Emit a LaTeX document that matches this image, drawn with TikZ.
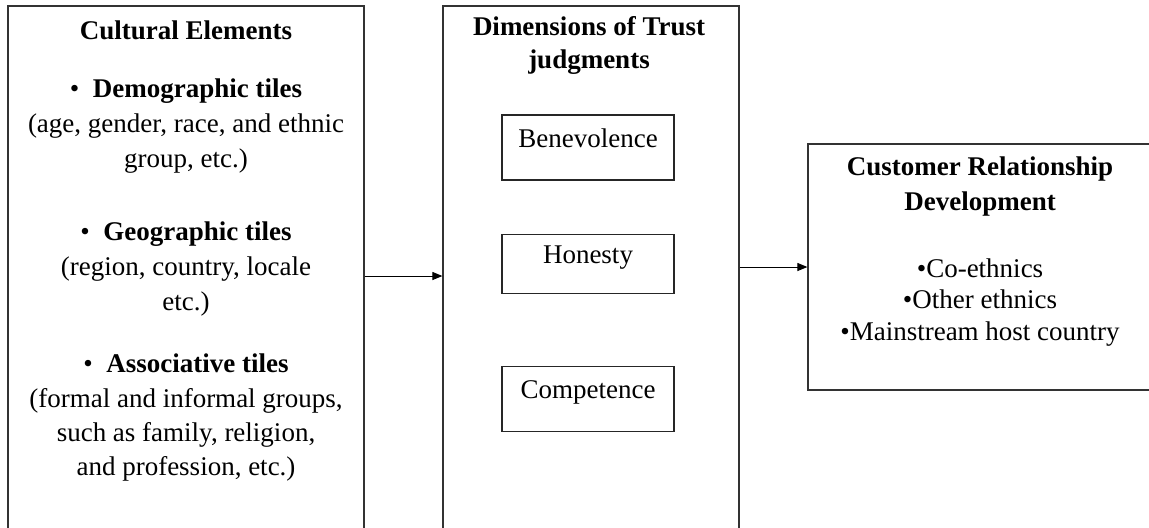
\documentclass[tikz,border=0pt]{standalone}
\usepackage{fontspec}
\setmainfont{Liberation Serif}
\usetikzlibrary{arrows.meta, positioning}
\newcommand{\bodyfont}{\fontsize{13.5}{17.5}\selectfont}
\tikzset{
	panel/.style={draw=black!80, line width=0.6pt, inner sep=0pt},
	dimbox/.style={draw=black!85, line width=0.6pt, minimum width=86pt,
		minimum height=32.5pt, inner sep=0pt, text height=9pt, text depth=9pt},
	heading/.style={align=center, inner sep=0pt, font=\bodyfont\bfseries},
	entry/.style={align=center, inner sep=0pt},
	flow/.style={-{Triangle[length=5pt, width=4pt]}, line width=0.5pt, black},
}

\begin{document}
\begin{tikzpicture}[x=0.5pt, y=-0.5pt, font=\bodyfont]
	\clip (0,0) rectangle (1149,527);
	% three panels, open at the bottom
	\node[panel, minimum width=178pt, minimum height=270pt] (cult) at (186,276) {};
	\node[panel, minimum width=148pt, minimum height=270pt] (trust) at (591,276) {};
	\node[panel, minimum width=172pt, minimum height=123pt] (crd) at (980,267) {};
	% cultural elements (base = last line)
	\node[heading, anchor=base] (cultT) at (186,39) {Cultural Elements};
	\node[entry, anchor=base] (demo) at (186,167)
		{•\enspace\textbf{Demographic tiles}\\(age, gender, race, and ethnic\\group, etc.)};
	\node[entry, anchor=base] (geo) at (186,310)
		{•\enspace\textbf{Geographic tiles}\\(region, country, locale\\etc.)};
	\node[entry, anchor=base] (assoc) at (186,475)
		{•\enspace\textbf{Associative tiles}\\(formal and informal groups,\\[-0.5pt]such as family, religion,\\[-0.5pt]and profession, etc.)};
	% trust judgments
	\node[heading, anchor=base] (trustT) at (589,68) {Dimensions of Trust\\[-1pt]judgments};
	\node[dimbox] (ben) at (588,147.5) {Benevolence};
	\node[dimbox, minimum height=29.5pt, below=26.5pt of ben] (hon) {Honesty};
	\node[dimbox, below=36pt of hon] (comp) {Competence};
	% relationship development
	\node[heading, anchor=base] (crdT) at (980,210) {Customer Relationship\\Development};
	\node[entry, anchor=base] (crdL) at (980,340)
		{•Co-ethnics\\[-1.75pt]•Other ethnics\\[-1.75pt]•Mainstream host country};
	% connectors
	\draw[flow] (cult.east) -- (trust.west);
	\draw[flow] (trust.east |- crd.west) -- (crd.west);
\end{tikzpicture}
\end{document}
